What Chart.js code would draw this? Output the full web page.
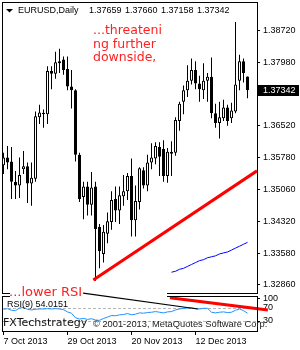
<!DOCTYPE html>
<html>
<head>
<meta charset="utf-8">
<script src="https://cdn.jsdelivr.net/npm/chart.js"></script>
<style>
  html, body { margin: 0; padding: 0; background: #fff; }
  #wrap { position: relative; width: 300px; height: 350px; overflow: hidden; }
  #main { position: absolute; left: 0; top: 0; }
  #rsi { position: absolute; left: 0; top: 286px; }
</style>
</head>
<body>
<div id="wrap">
  <canvas id="main" width="300" height="296"></canvas>
  <canvas id="rsi" width="300" height="64"></canvas>
</div>
<script>
// EURUSD daily, 7 Oct 2013 .. 2 Jan 2014
const dates = [
  '7 Oct 2013', '8 Oct 2013', '9 Oct 2013', '10 Oct 2013', '11 Oct 2013',
  '14 Oct 2013', '15 Oct 2013', '16 Oct 2013', '17 Oct 2013', '18 Oct 2013',
  '21 Oct 2013', '22 Oct 2013', '23 Oct 2013', '24 Oct 2013', '25 Oct 2013',
  '28 Oct 2013', '29 Oct 2013', '30 Oct 2013', '31 Oct 2013', '1 Nov 2013',
  '4 Nov 2013', '5 Nov 2013', '6 Nov 2013', '7 Nov 2013', '8 Nov 2013',
  '11 Nov 2013', '12 Nov 2013', '13 Nov 2013', '14 Nov 2013', '15 Nov 2013',
  '18 Nov 2013', '19 Nov 2013', '20 Nov 2013', '21 Nov 2013', '22 Nov 2013',
  '25 Nov 2013', '26 Nov 2013', '27 Nov 2013', '28 Nov 2013', '29 Nov 2013',
  '2 Dec 2013', '3 Dec 2013', '4 Dec 2013', '5 Dec 2013', '6 Dec 2013',
  '9 Dec 2013', '10 Dec 2013', '11 Dec 2013', '12 Dec 2013', '13 Dec 2013',
  '16 Dec 2013', '17 Dec 2013', '18 Dec 2013', '19 Dec 2013', '20 Dec 2013',
  '23 Dec 2013', '24 Dec 2013', '26 Dec 2013', '27 Dec 2013', '30 Dec 2013',
  '31 Dec 2013', '2 Jan 2014'
];
const opens = [
  1.35609, 1.35787, 1.35698, 1.35231, 1.35142, 1.35520, 1.35587, 1.35187, 1.35298, 1.36720,
  1.36787, 1.36787, 1.37787, 1.37720, 1.38009, 1.38053, 1.37831, 1.37431, 1.37342, 1.35853,
  1.34876, 1.35120, 1.34698, 1.35120, 1.34187, 1.33564, 1.34031, 1.34298, 1.34831, 1.34564,
  1.34898, 1.35009, 1.35364, 1.34342, 1.34764, 1.35498, 1.35142, 1.35676, 1.35764, 1.36031,
  1.35987, 1.35364, 1.35876, 1.35898, 1.36631, 1.37076, 1.37342, 1.37564, 1.37809, 1.37498,
  1.37342, 1.37564, 1.37653, 1.36809, 1.36587, 1.36698, 1.36942, 1.36698, 1.36853, 1.37564,
  1.38009, 1.37659
];
const highs = [
  1.35898, 1.36053, 1.36031, 1.35476, 1.35787, 1.35942, 1.35676, 1.35676, 1.36853, 1.37009,
  1.36898, 1.37898, 1.37898, 1.38231, 1.38298, 1.38120, 1.38120, 1.37809, 1.37364, 1.35898,
  1.35231, 1.35231, 1.35453, 1.35231, 1.34253, 1.34231, 1.34520, 1.35009, 1.35120, 1.35120,
  1.35387, 1.35431, 1.35764, 1.35142, 1.35564, 1.35564, 1.35853, 1.36120, 1.36142, 1.36142,
  1.36187, 1.36009, 1.36164, 1.36720, 1.37076, 1.37453, 1.37920, 1.38076, 1.38009, 1.37676,
  1.37964, 1.37742, 1.38098, 1.37031, 1.37076, 1.37120, 1.37009, 1.37053, 1.38920, 1.38164,
  1.38076, 1.37660
];
const lows = [
  1.35409, 1.35520, 1.34831, 1.34831, 1.34853, 1.35409, 1.34742, 1.34676, 1.35231, 1.36564,
  1.36476, 1.36564, 1.37364, 1.37609, 1.37742, 1.37698, 1.37342, 1.36920, 1.35698, 1.34764,
  1.34364, 1.34453, 1.34453, 1.32942, 1.33231, 1.33364, 1.33809, 1.34120, 1.34298, 1.34253,
  1.34676, 1.34809, 1.33964, 1.33964, 1.34587, 1.35076, 1.35009, 1.35520, 1.35631, 1.35364,
  1.35231, 1.35209, 1.35364, 1.35831, 1.36409, 1.36787, 1.37187, 1.37476, 1.37364, 1.37076,
  1.37142, 1.37076, 1.36698, 1.36476, 1.36231, 1.36631, 1.36520, 1.36587, 1.36809, 1.37342,
  1.37520, 1.37158
];
const closes = [
  1.35787, 1.35676, 1.35231, 1.35142, 1.35387, 1.35587, 1.35187, 1.35320, 1.36742, 1.36831,
  1.36820, 1.37787, 1.37720, 1.37987, 1.37964, 1.37809, 1.37431, 1.37342, 1.35853, 1.34831,
  1.35120, 1.34698, 1.35098, 1.34142, 1.33631, 1.34076, 1.34320, 1.34809, 1.34564, 1.34920,
  1.35009, 1.35364, 1.34342, 1.34787, 1.35542, 1.35142, 1.35676, 1.35787, 1.36053, 1.35809,
  1.35364, 1.35920, 1.35920, 1.36653, 1.37031, 1.37342, 1.37564, 1.37809, 1.37498, 1.37364,
  1.37564, 1.37653, 1.36809, 1.36587, 1.36720, 1.36942, 1.36631, 1.36876, 1.37476, 1.38009,
  1.37742, 1.37342
];
// blue indicator line, drawn from bar 42 onwards
const blueStart = 42;
const blueLine = [
  1.33142, 1.33164, 1.33209, 1.33231, 1.33276, 1.33320, 1.33364, 1.33409, 1.33431, 1.33476,
  1.33498, 1.33520, 1.33564, 1.33587, 1.33609, 1.33653, 1.33698, 1.33742, 1.33787, 1.33831
];
const rsi = [
  66, 68, 63, 62, 70, 72, 66, 64, 66, 67,
  67, 68, 67, 68, 67, 65, 58, 54, 40, 36,
  38, 35, 37, 33, 32, 38, 42, 47, 46, 49,
  50, 53, 49, 51, 55, 54, 56, 57, 59, 57,
  55, 58, 59, 64, 67, 69, 70, 71, 68, 67,
  69, 69, 57, 55, 57, 58, 56, 57, 63, 67,
  62, 54.0151
];
// hand-drawn trend lines (bar index, value)
const priceTrend = [{ x: 22.45, y: 1.32964 }, { x: 63.375, y: 1.35482 }];
const rsiTrendBlack = [{ x: 19.9, y: 116 }, { x: 48.6, y: 66.9 }];
const rsiTrendRed = [{ x: 41.6, y: 101.7 }, { x: 66.1, y: 63.8 }];

const priceTicks = [1.38720, 1.37980, 1.37260, 1.36520, 1.35780, 1.35060, 1.34320, 1.33580, 1.32860];
const rsiTicks = [100, 70, 30];
const dateTicks = [0, 16, 32, 48];
const noteLines = ['...threateni', 'ng further', 'downside,'];

Chart.defaults.font.family = '"Liberation Sans", Arial, sans-serif';
Chart.defaults.font.size = 9;
Chart.defaults.color = '#000';
Chart.defaults.animation = false;

const wicks = highs.map((h, i) => ({ x: i, y: [lows[i], h] }));
const bodies = opens.map((o, i) => ({ x: i, y: [o, closes[i]] }));
const bodyColors = opens.map((o, i) => closes[i] >= o ? '#ffffff' : '#000000');
const blueData = blueLine.map((v, k) => ({ x: blueStart + k, y: v }));
const rsiData = rsi.map((v, i) => ({ x: i, y: v }));

const xRange = { type: 'linear', min: -0.125, max: 63.375, offset: false };

const mainDecor = {
  id: 'mainDecor',
  afterDraw(chart) {
    const c = chart.ctx;
    const y = chart.scales.y;
    c.save();
    c.strokeStyle = '#000';
    c.lineWidth = 1;
    c.beginPath();
    c.moveTo(2.5, 2); c.lineTo(2.5, 294);
    c.moveTo(2, 2.5); c.lineTo(258, 2.5);
    c.moveTo(257.5, 2); c.lineTo(257.5, 294);
    c.moveTo(2, 293.5); c.lineTo(10, 293.5);
    c.moveTo(167, 293.5); c.lineTo(258, 293.5);
    c.stroke();

    // header
    c.fillStyle = '#000';
    c.beginPath();
    c.moveTo(6, 9); c.lineTo(13, 9); c.lineTo(9.5, 12.5); c.closePath();
    c.fill();
    c.font = '9px "Liberation Sans"';
    c.textBaseline = 'middle';
    c.fillText('EURUSD,Daily', 18, 11);
    const last = closes.length - 1;
    [opens[last], highs[last], lows[last], closes[last]].forEach((v, k) => {
      c.fillText(v.toFixed(5), 89 + 36 * k, 11);
    });

    // red note
    c.fillStyle = '#ff2020';
    c.font = '12.5px "DejaVu Sans"';
    noteLines.forEach((t, k) => c.fillText(t, 93, 31 + 13.5 * k));

    // last price box
    const py = Math.round(y.getPixelForValue(closes[last]));
    c.fillStyle = '#000';
    c.fillRect(257, py - 5, 42, 11);
    c.fillStyle = '#fff';
    c.font = '9px "Liberation Sans"';
    c.fillText(closes[last].toFixed(5), 263, py + 0.5);
    c.restore();
  }
};

new Chart(document.getElementById('main'), {
  type: 'bar',
  data: {
    datasets: [
      { type: 'bar', data: wicks, backgroundColor: '#000', barThickness: 1, grouped: false, inflateAmount: 0, order: 4 },
      { type: 'bar', data: bodies, backgroundColor: bodyColors, borderColor: '#000', borderWidth: 1,
        borderSkipped: false, barThickness: 3, grouped: false, inflateAmount: 0, order: 3 },
      { type: 'line', data: blueData, borderColor: '#0000ff', borderWidth: 1, pointRadius: 0, order: 2 },
      { type: 'line', data: priceTrend, borderColor: '#ff0000', borderWidth: 3, pointRadius: 0, order: 1 }
    ]
  },
  options: {
    responsive: false,
    events: [],
    layout: { padding: { left: 3, top: 3, bottom: 3, right: 0 } },
    plugins: { legend: { display: false }, tooltip: { enabled: false } },
    scales: {
      x: { ...xRange, display: false },
      y: {
        position: 'right',
        min: 1.327867,
        max: 1.392311,
        beginAtZero: false,
        afterFit(s) { s.width = 43; },
        afterBuildTicks(s) { s.ticks = priceTicks.map(v => ({ value: v })); },
        ticks: { padding: 3, callback: v => v.toFixed(5) },
        grid: { drawOnChartArea: false, tickLength: 3, color: '#000' },
        border: { display: false }
      }
    }
  },
  plugins: [mainDecor]
});

const rsiDecor = {
  id: 'rsiDecor',
  afterDraw(chart) {
    const c = chart.ctx;
    c.save();
    c.strokeStyle = '#000';
    c.lineWidth = 1;
    c.beginPath();
    c.moveTo(2.5, 10); c.lineTo(2.5, 46);
    c.moveTo(257.5, 10); c.lineTo(257.5, 46);
    c.moveTo(2, 10.5); c.lineTo(10, 10.5);
    c.moveTo(167, 10.5); c.lineTo(258, 10.5);
    c.moveTo(2, 45.5); c.lineTo(258, 45.5);
    c.stroke();

    c.textBaseline = 'middle';
    c.fillStyle = '#ff2020';
    c.font = '13px "DejaVu Sans"';
    c.fillText('...lower RSI', 9, 7);

    c.fillStyle = '#000';
    c.font = '9px "Liberation Sans"';
    c.fillText('RSI(9) ' + rsi[rsi.length - 1].toFixed(4), 7, 19);

    c.fillStyle = '#111';
    c.font = '11px "DejaVu Sans"';
    c.fillText('FXTechstrategy', 3, 37);
    c.fillStyle = '#222';
    c.font = '9.3px "Liberation Sans"';
    c.fillText('\u00a9 2001-2013, MetaQuotes Software Corp.', 93, 38.5);
    c.restore();
  }
};

new Chart(document.getElementById('rsi'), {
  type: 'line',
  data: {
    datasets: [
      { data: rsiData, borderColor: '#1e90ff', borderWidth: 1, pointRadius: 0, order: 3 },
      { data: rsiTrendBlack, borderColor: '#000', borderWidth: 1.2, pointRadius: 0, clip: false, order: 2 },
      { data: rsiTrendRed, borderColor: '#ff0000', borderWidth: 3, pointRadius: 0, clip: false, order: 1 }
    ]
  },
  options: {
    responsive: false,
    events: [],
    layout: { padding: { left: 3, top: 11, right: 0, bottom: 0 } },
    plugins: { legend: { display: false }, tooltip: { enabled: false } },
    scales: {
      x: {
        ...xRange,
        afterFit(s) { s.height = 19; },
        afterBuildTicks(s) { s.ticks = dateTicks.map(v => ({ value: v })); },
        ticks: { align: 'start', maxRotation: 0, autoSkip: false, padding: 1, callback: v => dates[v] },
        grid: { drawOnChartArea: false, tickLength: 4, color: '#000' },
        border: { display: false }
      },
      y: {
        position: 'right',
        min: -0.77,
        max: 103.85,
        afterFit(s) { s.width = 43; },
        afterBuildTicks(s) { s.ticks = rsiTicks.map(v => ({ value: v })); },
        ticks: { padding: 3 },
        grid: {
          color: ctx => (ctx.tick && ctx.tick.value !== 100) ? '#b8b8b8' : 'rgba(0,0,0,0)',
          tickColor: '#000',
          tickLength: 3
        },
        border: { display: false, dash: [3, 2] }
      }
    }
  },
  plugins: [rsiDecor]
});
</script>
</body>
</html>
